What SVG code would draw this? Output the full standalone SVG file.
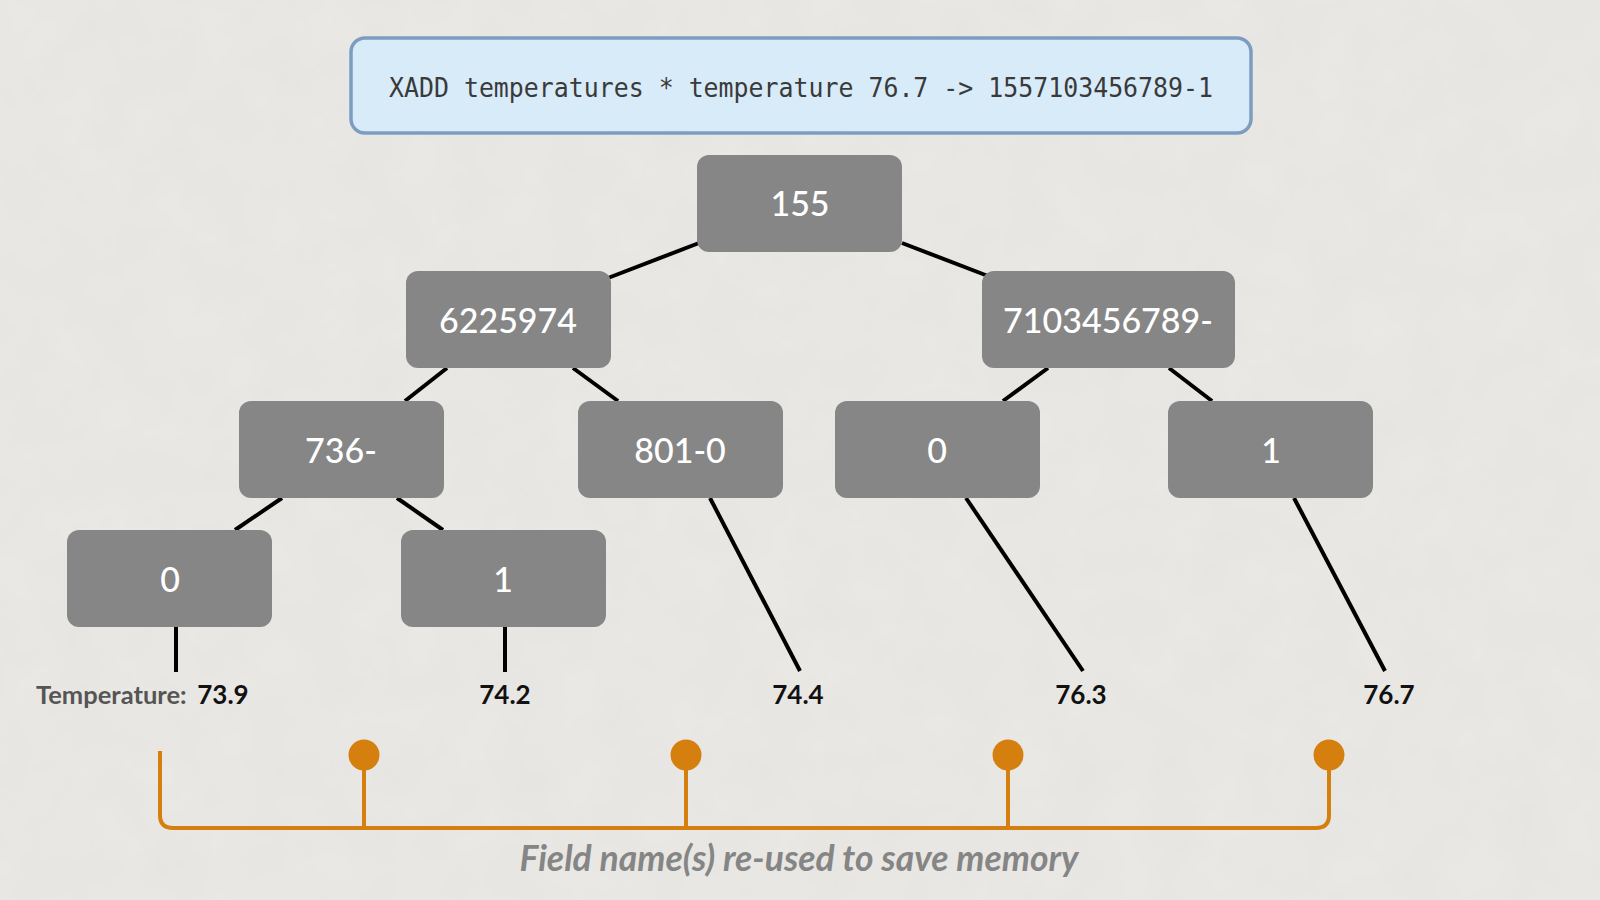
<svg xmlns="http://www.w3.org/2000/svg" width="1600" height="900" viewBox="0 0 1600 900">
<defs>
<style>
.node rect{fill:#868686;}
.node text{font-family:Lato,"Noto Sans","Liberation Sans",sans-serif;font-size:34px;font-weight:500;fill:#ffffff;text-anchor:middle;}
.conn line{stroke:#000;stroke-width:4;stroke-linecap:butt;}
.val{font-family:Lato,"Liberation Sans",sans-serif;font-weight:bold;font-size:26px;fill:#111;text-anchor:middle;}
.lbl{font-family:Lato,"Liberation Sans",sans-serif;font-weight:bold;font-size:25.5px;fill:#555;}
.br{stroke:#d47f0e;stroke-width:4;fill:none;}
.dot{fill:#d47f0e;}
</style>
<filter id="paper" x="0" y="0" width="100%" height="100%">
<feTurbulence type="fractalNoise" baseFrequency="0.02" numOctaves="3" seed="4" result="n"/>
<feColorMatrix in="n" type="matrix" values="0 0 0 0 0.5  0 0 0 0 0.5  0 0 0 0 0.5  0 0 0 0.10 0"/>
</filter>
</defs>
<rect x="0" y="0" width="1600" height="900" fill="#ebe9e5"/>
<rect x="0" y="0" width="1600" height="900" filter="url(#paper)"/>

<g id="command">
<rect x="351" y="38" width="900" height="95" rx="14" fill="#d8ebf9" stroke="#7d9dc0" stroke-width="3.5"/>
<text x="801" y="97" font-family="'DejaVu Sans Mono','Liberation Mono',monospace" font-size="27" fill="#3a3a3a" text-anchor="middle" textLength="824" lengthAdjust="spacingAndGlyphs">XADD temperatures * temperature 76.7 -&gt; 1557103456789-1</text>
</g>

<g id="connectors" class="conn">
<line x1="699" y1="243" x2="608" y2="278"/>
<line x1="902" y1="243" x2="988" y2="276"/>
<line x1="447" y1="368" x2="405" y2="401"/>
<line x1="573" y1="368" x2="618" y2="401"/>
<line x1="1048" y1="368" x2="1003" y2="401"/>
<line x1="1169" y1="368" x2="1212" y2="401"/>
<line x1="282" y1="498" x2="235" y2="530"/>
<line x1="397" y1="498" x2="443" y2="530"/>
<line x1="176" y1="627" x2="176" y2="672"/>
<line x1="505" y1="627" x2="505" y2="672"/>
<line x1="710" y1="498" x2="800" y2="671"/>
<line x1="966" y1="498" x2="1083" y2="671"/>
<line x1="1294" y1="498" x2="1385" y2="671"/>
</g>

<g id="n155" class="node"><rect x="697" y="155" width="205" height="97" rx="12"/><text x="800" y="216">155</text></g>
<g id="n6225974" class="node"><rect x="406" y="271" width="205" height="97" rx="12"/><text x="508" y="333">6225974</text></g>
<g id="n7103456789" class="node"><rect x="982" y="271" width="253" height="97" rx="12"/><text x="1108" y="333">7103456789-</text></g>
<g id="n736" class="node"><rect x="239" y="401" width="205" height="97" rx="12"/><text x="341" y="463">736-</text></g>
<g id="n801" class="node"><rect x="578" y="401" width="205" height="97" rx="12"/><text x="680" y="463">801-0</text></g>
<g id="n0r" class="node"><rect x="835" y="401" width="205" height="97" rx="12"/><text x="937" y="463">0</text></g>
<g id="n1r" class="node"><rect x="1168" y="401" width="205" height="97" rx="12"/><text x="1271" y="463">1</text></g>
<g id="n0l" class="node"><rect x="67" y="530" width="205" height="97" rx="12"/><text x="170" y="592">0</text></g>
<g id="n1l" class="node"><rect x="401" y="530" width="205" height="97" rx="12"/><text x="503" y="592">1</text></g>

<g id="values">
<text class="lbl" x="36" y="704">Temperature:</text>
<text class="val" x="223" y="704">73.9</text>
<text class="val" x="505" y="704">74.2</text>
<text class="val" x="798" y="704">74.4</text>
<text class="val" x="1081" y="704">76.3</text>
<text class="val" x="1389" y="704">76.7</text>
</g>

<g id="bracket">
<path class="br" d="M160 751 V815 Q160 828 173 828 H1316 Q1329 828 1329 815 V754"/>
<line class="br" x1="364" y1="754" x2="364" y2="828"/>
<line class="br" x1="686" y1="754" x2="686" y2="828"/>
<line class="br" x1="1008" y1="754" x2="1008" y2="828"/>
<circle class="dot" cx="364" cy="755" r="15.5"/>
<circle class="dot" cx="686" cy="755" r="15.5"/>
<circle class="dot" cx="1008" cy="755" r="15.5"/>
<circle class="dot" cx="1329" cy="755" r="15.5"/>
<text x="799" y="871" font-family="Lato,'Liberation Sans',sans-serif" font-weight="bold" font-style="italic" font-size="35.5" fill="#858585" text-anchor="middle">Field name(s) re-used to save memory</text>
</g>
</svg>
